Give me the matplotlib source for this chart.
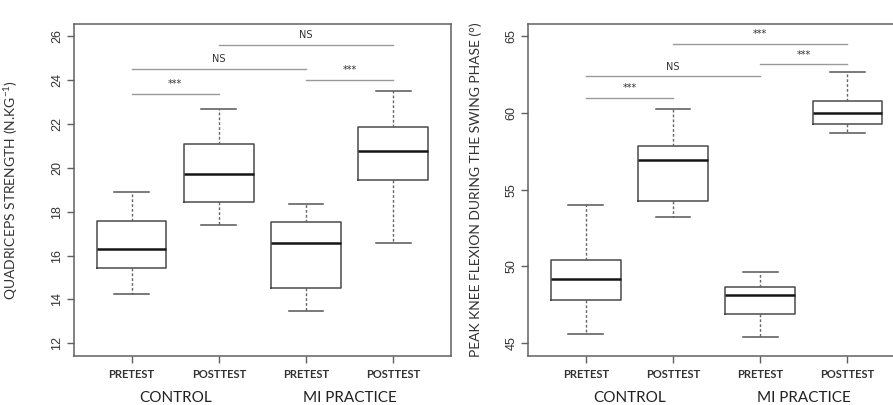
import matplotlib.pyplot as plt

plt.rcParams['font.family'] = ['Lato', 'DejaVu Sans']

# x categories
tick_labels = ["PRETEST", "POSTTEST", "PRETEST", "POSTTEST"]
groups = ["CONTROL", "MI PRACTICE"]

# quadriceps strength (N.kg-1): whisker low, Q1, median, Q3, whisker high
quad_lo = [14.25, 17.37, 13.47, 16.56]
quad_q1 = [15.41, 18.44, 14.51, 19.44]
quad_med = [16.30, 19.71, 16.59, 20.75]
quad_q3 = [17.57, 21.11, 17.54, 21.86]
quad_hi = [18.92, 22.68, 18.37, 23.52]

# peak knee flexion (deg)
knee_lo = [45.59, 53.22, 45.39, 58.72]
knee_q1 = [47.80, 54.30, 46.89, 59.26]
knee_med = [49.17, 56.96, 48.13, 60.00]
knee_q3 = [50.43, 57.87, 48.67, 60.76]
knee_hi = [53.98, 60.24, 49.61, 62.65]

# significance bars: (from, to, y, label)
quad_sig = [(1, 2, 23.37, "***"), (1, 3, 24.51, "NS"), (3, 4, 24.02, "***"), (2, 4, 25.59, "NS")]
knee_sig = [(1, 2, 61.0, "***"), (1, 3, 62.41, "NS"), (3, 4, 63.17, "***"), (2, 4, 64.52, "***")]

frame_col = "#606060"


def panel(ax, lo, q1, med, q3, hi, sig, ylim, yticks, ylabel, label_x, text_off):
    stats = []
    for i in range(4):
        stats.append(dict(whislo=lo[i], q1=q1[i], med=med[i], q3=q3[i], whishi=hi[i], fliers=[]))
    ax.bxp(stats, positions=[1, 2, 3, 4], widths=0.8, showfliers=False,
           boxprops=dict(color="#4a4a4a", linewidth=1.1),
           medianprops=dict(color="#151515", linewidth=1.8),
           whiskerprops=dict(color="#666666", linewidth=1.0, linestyle=(0, (2, 1.5))),
           capprops=dict(color="#555555", linewidth=1.1),
           capwidths=0.4)
    for a, b, y, lab in sig:
        ax.plot([a, b], [y, y], color="#9a9a9a", linewidth=1.0)
        ax.text((a + b) / 2, y + text_off, lab, ha="center", va="center",
                fontsize=7, color="#333333", family=["DejaVu Sans"])
    ax.set_xlim(0.34, 4.66)
    ax.set_ylim(*ylim)
    ax.set_yticks(yticks)
    ax.set_yticklabels([str(t) for t in yticks], rotation=90, va="center",
                       fontsize=9, color="#333333", family=["Liberation Sans"])
    ax.set_xticks([1, 2, 3, 4])
    ax.set_xticklabels(tick_labels, fontsize=8, fontweight="bold", color="#333333")
    ax.tick_params(axis="both", length=5, width=1, color=frame_col)
    ax.tick_params(axis="x", pad=5)
    ax.tick_params(axis="y", pad=3)
    for s in ax.spines.values():
        s.set_color(frame_col)
        s.set_linewidth(1.1)
    ax.set_ylabel(ylabel, fontsize=10, color="#333333")
    ax.yaxis.set_label_coords(label_x, 0.5)
    trans = ax.get_xaxis_transform()
    ax.text(1.5, -0.128, groups[0], transform=trans, ha="center", va="center",
            fontsize=11, color="#222222")
    ax.text(3.5, -0.128, groups[1], transform=trans, ha="center", va="center",
            fontsize=11, color="#222222")


fig = plt.figure(figsize=(8.93, 4.05), dpi=100)
ax1 = fig.add_axes([0.0829, 0.1222, 0.4218, 0.8185])
ax2 = fig.add_axes([0.5916, 0.1222, 0.4218, 0.8185])

panel(ax1, quad_lo, quad_q1, quad_med, quad_q3, quad_hi, quad_sig,
      (11.44, 26.56), [12, 14, 16, 18, 20, 22, 24, 26],
      r"QUADRICEPS STRENGTH (N.KG$^{\mathregular{-1}}$)", -0.143, 0.45)
panel(ax2, knee_lo, knee_q1, knee_med, knee_q3, knee_hi, knee_sig,
      (44.2, 65.8), [45, 50, 55, 60, 65],
      "PEAK KNEE FLEXION DURING THE SWING PHASE (°)", -0.124, 0.62)

fig.savefig("out.png", dpi=100)
